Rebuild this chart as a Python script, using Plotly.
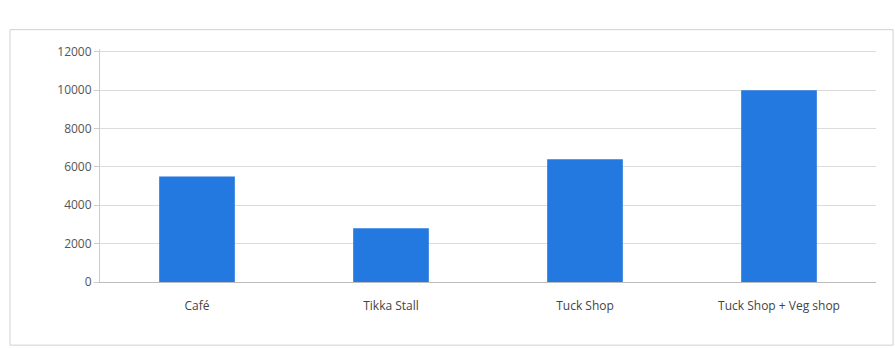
import plotly.graph_objects as go

categories = ["Café", "Tikka Stall", "Tuck Shop", "Tuck Shop + Veg shop"]
values = [5500, 2800, 6400, 10000]
y_ticks = [0, 2000, 4000, 6000, 8000, 10000, 12000]

fig = go.Figure()
fig.add_trace(go.Bar(x=categories, y=values, marker=dict(color="#2479e0", line=dict(width=0)),
                     width=0.39))

fig.update_layout(
    width=895, height=348,
    margin=dict(l=100, r=19, t=49, b=66),
    paper_bgcolor="white", plot_bgcolor="white",
    font=dict(family="Open Sans, Noto Sans, sans-serif", size=12, color="#555555"),
    showlegend=False,
    xaxis=dict(showgrid=False, showline=True, linecolor="#bbbbbb", linewidth=1,
               ticks="", tickfont=dict(size=12, color="#444444"), ticklabelstandoff=13),
    yaxis=dict(range=[0, 12150], tickvals=y_ticks, ticktext=[str(v) for v in y_ticks],
               showgrid=True, gridcolor="#dcdcdc",
               gridwidth=1, showline=True, linecolor="#cccccc", ticks="outside",
               ticklen=5, tickcolor="#cccccc", zeroline=False,
               tickfont=dict(size=12, color="#555555")),
    shapes=[dict(type="rect", xref="paper", yref="paper", x0=-0.116, x1=1.022, y0=-0.271, y1=1.083,
                 line=dict(color="#d0d0d0", width=1))],
)

fig.write_html("out.html")
